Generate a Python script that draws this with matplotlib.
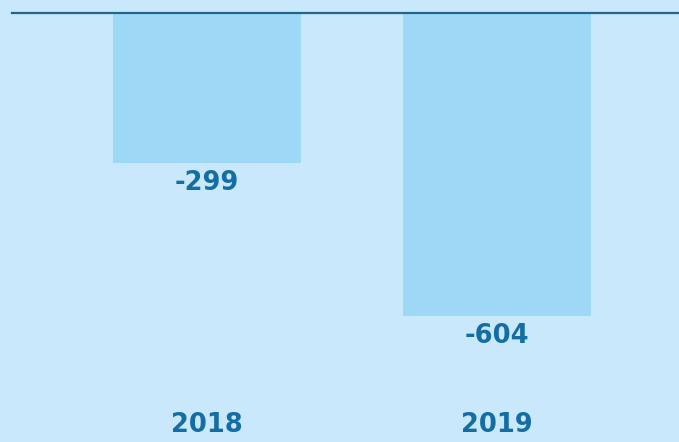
import matplotlib
matplotlib.use("Agg")
import matplotlib.pyplot as plt
import matplotlib.transforms as mtransforms

years = ["2018", "2019"]
values = [-299, -604]

BG = "#c9e8fb"
BAR = "#9dd8f6"
LINE = "#24658a"
TXT = "#146ea3"

fig = plt.figure(figsize=(6.79, 4.42), dpi=100, facecolor=BG)
ax = fig.add_axes([0, 0, 1, 1])
ax.set_facecolor(BG)

x = list(range(len(years)))
ax.bar(x, values, width=0.649, color=BAR, zorder=1)
ax.axhline(0, xmin=0.018, xmax=1, color=LINE, lw=1.6, zorder=3)

for xi, v in zip(x, values):
    ax.annotate(f"{v}", (xi, v), xytext=(0, -14.5), textcoords="offset points",
                ha="center", va="center", fontsize=18.5, fontweight="bold",
                color=TXT, family="DejaVu Sans")

trans = mtransforms.blended_transform_factory(ax.transData, ax.transAxes)
for xi, yr in zip(x, years):
    ax.text(xi, 1 - 425 / 442, yr, transform=trans, ha="center", va="center",
            fontsize=18.5, fontweight="bold", color=TXT, family="DejaVu Sans")

ax.set_xlim(-0.715, 1.630)
ax.set_ylim(-854.6, 25.9)
ax.axis("off")

fig.savefig("out.png", dpi=100, facecolor=BG)
